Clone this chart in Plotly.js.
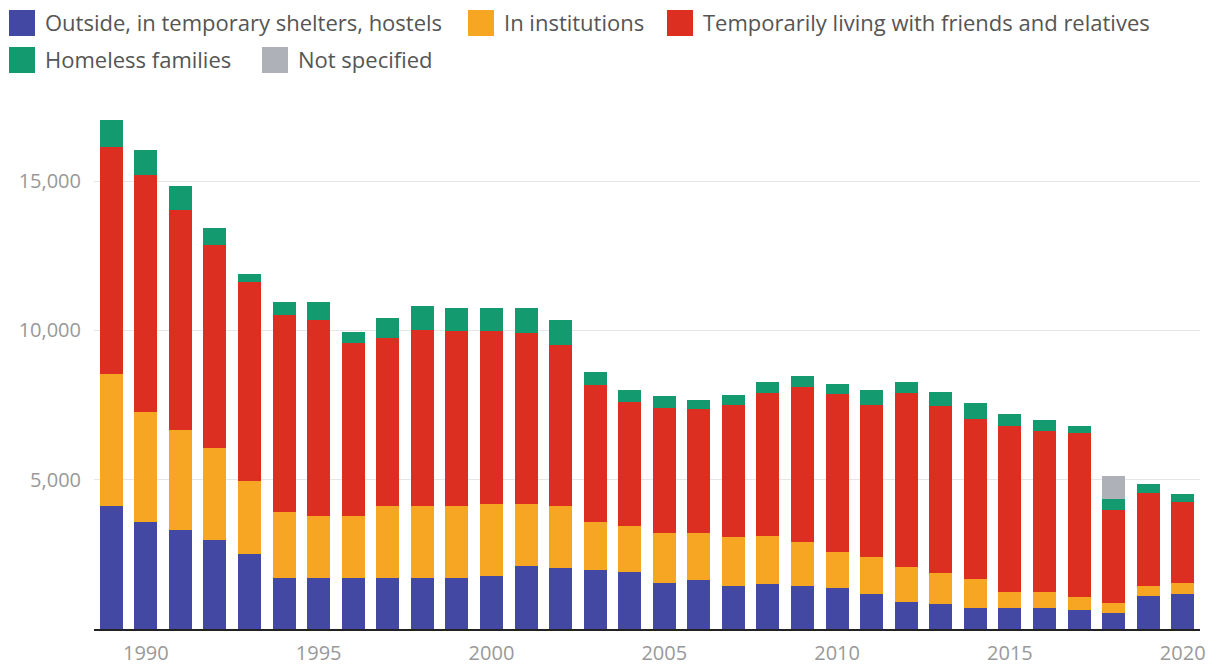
<!DOCTYPE html>
<html>
<head>
<meta charset="utf-8">
<script src="https://cdn.plot.ly/plotly-3.0.1.min.js"></script>
<style>
html,body{margin:0;padding:0;background:#fff;}
#chart{width:1217px;height:666px;}
</style>
</head>
<body>
<div id="chart"></div>
<script>
const years = [1989,1990,1991,1992,1993,1994,1995,1996,1997,1998,1999,2000,2001,2002,2003,2004,2005,2006,2007,2008,2009,2010,2011,2012,2013,2014,2015,2016,2017,2018,2019,2020];
const outside = [4120,3590,3320,2980,2515,1710,1710,1710,1710,1700,1700,1775,2110,2030,1975,1900,1550,1640,1440,1505,1440,1365,1170,905,835,695,695,695,635,525,1105,1170];
const institutions = [4420,3690,3350,3090,2425,2225,2075,2075,2420,2420,2420,2410,2075,2090,1620,1550,1655,1565,1630,1610,1485,1225,1230,1160,1030,970,555,555,425,335,335,360];
const friends = [7600,7920,7355,6805,6690,6575,6575,5800,5630,5895,5870,5805,5740,5390,4575,4160,4185,4155,4430,4780,5170,5270,5100,5830,5605,5355,5550,5390,5495,3125,3105,2735];
const families = [910,845,805,550,260,425,575,370,655,800,750,750,815,840,445,395,415,310,335,385,380,345,505,385,475,540,400,360,245,360,310,255];
const notSpecified = [0,0,0,0,0,0,0,0,0,0,0,0,0,0,0,0,0,0,0,0,0,0,0,0,0,0,0,0,0,780,0,0];
const seriesNames = ["Outside, in temporary shelters, hostels","In institutions","Temporarily living with friends and relatives","Homeless families","Not specified"];
const xTicks = [1990,1995,2000,2005,2010,2015,2020];
const yTicks = [5000,10000,15000];

const colors = ["#4349a3","#f6a623","#dd2e22","#139a6e","#aeb1b7"];
const series = [outside, institutions, friends, families, notSpecified];

const W = 1217, H = 666;
const M = {l: 94, r: 17, t: 100, b: 37};
const plotW = W - M.l - M.r, plotH = H - M.t - M.b;
const px2x = p => (p - M.l) / plotW;
const px2y = p => (H - M.b - p) / plotH;

// legend layout (pixel positions of each swatch: left x, centre y)
const legendPos = [[9, 23], [468, 23], [667, 23], [9, 60], [262, 60]];
const sw = 26;

const traces = series.map((vals, i) => ({
  type: "bar",
  x: years,
  y: vals,
  name: seriesNames[i],
  marker: {color: colors[i], line: {width: 0}},
  hoverinfo: "x+y+name"
}));

const shapes = legendPos.map((p, i) => ({
  type: "rect",
  xref: "paper", yref: "paper",
  x0: px2x(p[0]), x1: px2x(p[0] + sw),
  y0: px2y(p[1] + sw / 2), y1: px2y(p[1] - sw / 2),
  fillcolor: colors[i],
  line: {width: 0},
  layer: "above"
}));

const annotations = legendPos.map((p, i) => ({
  xref: "paper", yref: "paper",
  x: px2x(p[0] + sw + 8), y: px2y(p[1] - 1),
  xanchor: "left", yanchor: "middle",
  text: seriesNames[i],
  showarrow: false,
  font: {size: 22, color: "#555555", family: "'Open Sans', Roboto, sans-serif"}
}));

const layout = {
  width: W,
  height: H,
  barmode: "stack",
  bargap: 0.335,
  paper_bgcolor: "#ffffff",
  plot_bgcolor: "#ffffff",
  margin: {l: M.l, r: M.r, t: M.t, b: M.b, pad: 0},
  font: {family: "'Open Sans', Roboto, sans-serif", color: "#999999", size: 20},
  showlegend: false,
  shapes: shapes,
  annotations: annotations,
  xaxis: {
    range: [1988.5, 2020.5],
    tickvals: xTicks,
    ticktext: xTicks.map(String),
    showgrid: false,
    zeroline: false,
    showline: true,
    linecolor: "#222222",
    linewidth: 2,
    ticks: "",
    ticklabelstandoff: 5,
    tickfont: {size: 20, color: "#999999"},
    automargin: false,
    fixedrange: true
  },
  yaxis: {
    range: [0, 17716],
    tickvals: yTicks,
    tickformat: ",",
    showgrid: true,
    gridcolor: "#e6e6e6",
    gridwidth: 1,
    zeroline: false,
    showline: false,
    ticks: "",
    ticklabelstandoff: 12,
    tickfont: {size: 20, color: "#999999"},
    automargin: false,
    fixedrange: true
  }
};

Plotly.newPlot("chart", traces, layout, {displayModeBar: false, staticPlot: true});
</script>
</body>
</html>
